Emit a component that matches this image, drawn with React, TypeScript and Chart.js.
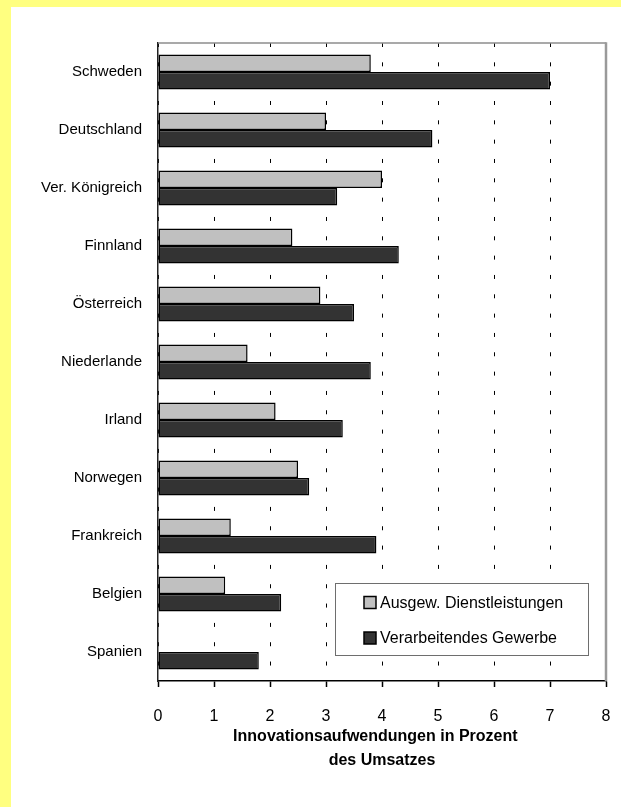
import React, { useEffect, useRef } from "react";
import { Chart, registerables } from "chart.js";

Chart.register(...registerables);

const categories = [
  "Schweden",
  "Deutschland",
  "Ver. Königreich",
  "Finnland",
  "Österreich",
  "Niederlande",
  "Irland",
  "Norwegen",
  "Frankreich",
  "Belgien",
  "Spanien",
];
const dienstleistungen = [3.8, 3.0, 4.0, 2.4, 2.9, 1.6, 2.1, 2.5, 1.3, 1.2, null];
const gewerbe = [7.0, 4.9, 3.2, 4.3, 3.5, 3.8, 3.3, 2.7, 3.9, 2.2, 1.8];
const seriesLabels = ["Ausgew. Dienstleistungen", "Verarbeitendes Gewerbe"];
const axisTitle = ["Innovationsaufwendungen in Prozent   ", "des Umsatzes"];
const xMin = 0;
const xMax = 8;

const SANS = '"Liberation Sans", Arial, sans-serif';

const W = 621;
const H = 807;

const backgroundPlugin = {
  id: "bgFrame",
  beforeDraw(chart: any) {
    const ctx = chart.ctx;
    ctx.save();
    ctx.fillStyle = "#FFFF80";
    ctx.fillRect(0, 0, chart.width, chart.height);
    ctx.fillStyle = "#FFFFFF";
    ctx.fillRect(11, 7, chart.width - 11, chart.height - 7);
    ctx.restore();
  },
  afterDraw(chart: any) {
    const { ctx, chartArea } = chart;
    ctx.save();
    ctx.strokeStyle = "#8c8c8c";
    ctx.lineWidth = 1.5;
    ctx.beginPath();
    ctx.moveTo(chartArea.left, chartArea.top);
    ctx.lineTo(chartArea.right, chartArea.top);
    ctx.stroke();
    ctx.strokeStyle = "#9a9a9a";
    ctx.lineWidth = 2.5;
    ctx.beginPath();
    ctx.moveTo(chartArea.right, chartArea.top - 0.75);
    ctx.lineTo(chartArea.right, chartArea.bottom);
    ctx.stroke();
    ctx.restore();

    const boxL = 335, boxT = 583, boxR = 588, boxB = 655;
    ctx.save();
    ctx.fillStyle = "#FFFFFF";
    ctx.fillRect(boxL, boxT, boxR - boxL, boxB - boxT);
    ctx.strokeStyle = "#6e6e6e";
    ctx.lineWidth = 1;
    ctx.strokeRect(boxL + 0.5, boxT + 0.5, boxR - boxL, boxB - boxT);
    const ds = chart.data.datasets;
    const rows = [602.5, 638];
    ctx.font = "16px " + SANS;
    ctx.textBaseline = "middle";
    ctx.textAlign = "left";
    for (let i = 0; i < ds.length; i++) {
      const y = rows[i];
      ctx.fillStyle = ds[i].backgroundColor;
      ctx.fillRect(364, y - 6, 12, 12);
      ctx.strokeStyle = "#000";
      ctx.lineWidth = 1.5;
      ctx.strokeRect(364, y - 6, 12, 12);
      ctx.fillStyle = "#000";
      ctx.fillText(ds[i].label, 380, y + 1);
    }
    ctx.restore();
  },
};

export default function App() {
  const ref = useRef<HTMLCanvasElement | null>(null);

  useEffect(() => {
    if (!ref.current) return;
    const chart = new Chart(ref.current, {
      type: "bar",
      data: {
        labels: categories,
        datasets: [
          {
            label: seriesLabels[0],
            data: dienstleistungen,
            backgroundColor: "#C0C0C0",
            borderColor: "#000000",
            borderWidth: 1.5,
            borderSkipped: false,
            categoryPercentage: 0.6,
            barPercentage: 1.0,
          },
          {
            label: seriesLabels[1],
            data: gewerbe,
            backgroundColor: "#333333",
            borderColor: "#000000",
            borderWidth: 1.5,
            borderSkipped: false,
            categoryPercentage: 0.6,
            barPercentage: 1.0,
          },
        ],
      },
      options: {
        indexAxis: "y",
        responsive: false,
        animation: false,
        devicePixelRatio: 1,
        layout: { padding: { top: 43, right: 15, left: 0, bottom: 0 } },
        plugins: {
          legend: { display: false },
          tooltip: { enabled: false },
        },
        scales: {
          x: {
            type: "linear",
            position: "bottom",
            min: xMin,
            max: xMax,
            ticks: {
              stepSize: 1,
              color: "#000",
              font: { family: SANS, size: 16 },
              padding: 20,
            },
            grid: {
              display: true,
              color: "#000",
              lineWidth: 1,
              drawTicks: true,
              tickLength: 6,
              tickColor: "#000",
              tickWidth: 1.5,
            },
            border: { display: true, color: "#000", width: 1.5, dash: [4, 15.33] },
            title: {
              display: true,
              text: axisTitle,
              color: "#000",
              font: { family: SANS, size: 16, weight: "bold", lineHeight: 1.47 },
              padding: { top: 0, bottom: 35 },
            },
            afterFit(scale: any) {
              scale.height = H - 681;
              scale.paddingLeft = 0;
              scale.paddingRight = 0;
            },
          },
          y: {
            type: "category",
            position: "left",
            grid: { display: false, drawTicks: false },
            border: { display: true, color: "#222", width: 1.5 },
            ticks: {
              color: "#000",
              font: { family: SANS, size: 15 },
              padding: 16,
            },
            afterFit(scale: any) {
              scale.width = 158;
            },
          },
        },
      },
      plugins: [backgroundPlugin],
    } as any);
    return () => chart.destroy();
  }, []);

  return (
    <div style={{ position: "absolute", left: 0, top: 0, width: W, height: H }}>
      <canvas ref={ref} width={W} height={H} style={{ display: "block", width: W, height: H }} />
    </div>
  );
}
